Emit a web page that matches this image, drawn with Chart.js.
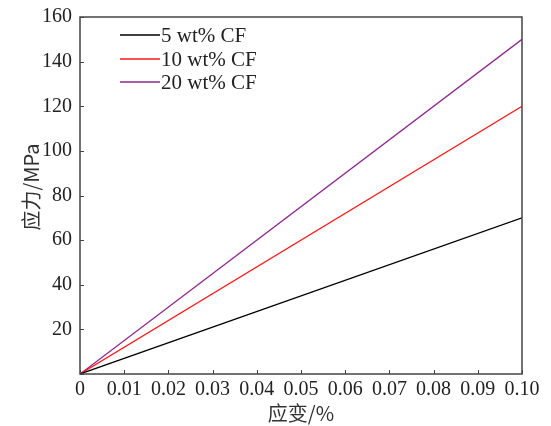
<!DOCTYPE html>
<html>
<head>
<meta charset="utf-8">
<script src="https://cdn.jsdelivr.net/npm/chart.js@4.4.0/dist/chart.umd.min.js"></script>
<style>
  html, body { margin: 0; padding: 0; background: #fff; }
  #box { width: 551px; height: 426px; }
</style>
</head>
<body>
<div id="box"><canvas id="grafico"></canvas></div>
<script>
// dados
const strain = [0, 0.1];
const cf5 = [0, 70];
const cf10 = [0, 120];
const cf20 = [0, 150];
const seriesNames = ['5 wt% CF', '10 wt% CF', '20 wt% CF'];
const seriesColors = ['#000000', '#ff1a1a', '#8e2a8e'];
const xTickLabels = ['0', '0.01', '0.02', '0.03', '0.04', '0.05', '0.06', '0.07', '0.08', '0.09', '0.10'];
const yTickLabels = ['', '20', '40', '60', '80', '100', '120', '140', '160'];
const xTitle = '应变/%';
const yTitle = '应力/MPa';

const serif = '"Liberation Serif", "Times New Roman", serif';
const cjk = '"Noto Sans CJK SC", "Liberation Serif", serif';

function pontos(ys) {
    return strain.map(function(x, i) { return { x: x, y: ys[i] }; });
}

// caixa, ticks para dentro, legenda e títulos
const moldura = {
    id: 'moldura',
    afterDraw: function(chart) {
        const ctx = chart.ctx;
        const a = chart.chartArea;
        const xs = chart.scales.x;
        const ys = chart.scales.y;
        ctx.save();
        ctx.strokeStyle = '#444';
        ctx.lineWidth = 1.5;
        ctx.strokeRect(a.left, a.top, a.right - a.left, a.bottom - a.top);
        ctx.lineWidth = 1;
        ctx.beginPath();
        xs.ticks.forEach(function(t) {
            const px = Math.round(xs.getPixelForValue(t.value)) + 0.5;
            ctx.moveTo(px, a.bottom);
            ctx.lineTo(px, a.bottom - 4);
        });
        ys.ticks.forEach(function(t) {
            const py = Math.round(ys.getPixelForValue(t.value)) + 0.5;
            ctx.moveTo(a.left, py);
            ctx.lineTo(a.left + 4, py);
        });
        ctx.stroke();

        // legenda
        const legY = [35, 59, 82];
        ctx.font = '21px ' + serif;
        ctx.textBaseline = 'middle';
        ctx.textAlign = 'left';
        chart.data.datasets.forEach(function(ds, i) {
            ctx.strokeStyle = ds.borderColor;
            ctx.lineWidth = 1.3;
            ctx.beginPath();
            ctx.moveTo(120, legY[i]);
            ctx.lineTo(160, legY[i]);
            ctx.stroke();
            ctx.fillStyle = '#222';
            ctx.fillText(ds.label, 161, legY[i] + 1);
        });

        // títulos dos eixos
        ctx.fillStyle = '#333';
        ctx.font = '20px ' + cjk;
        ctx.textAlign = 'center';
        ctx.fillText(xTitle, (a.left + a.right) / 2, 413);
        ctx.translate(31, 187);
        ctx.rotate(-Math.PI / 2);
        ctx.fillText(yTitle, 0, 0);
        ctx.restore();
    }
};

document.addEventListener('DOMContentLoaded', function() {
    const ctx = document.getElementById('grafico').getContext('2d');
    new Chart(ctx, {
        type: 'line',
        data: {
            datasets: [cf5, cf10, cf20].map(function(ys, i) {
                return {
                    label: seriesNames[i],
                    data: pontos(ys),
                    borderColor: seriesColors[i],
                    borderWidth: 1.3,
                    pointRadius: 0,
                    fill: false
                };
            })
        },
        options: {
            responsive: true,
            maintainAspectRatio: false,
            animation: false,
            layout: { padding: { top: 17, right: 29, left: 0, bottom: 0 } },
            plugins: { legend: { display: false }, tooltip: { enabled: false } },
            scales: {
                x: {
                    type: 'linear',
                    min: 0,
                    max: 0.1,
                    afterFit: function(s) {
                        s.height = 52;
                        s.paddingLeft = 0;
                        s.paddingRight = 0;
                    },
                    afterBuildTicks: function(s) {
                        s.ticks = xTickLabels.map(function(l, i) { return { value: i * 0.01 }; });
                    },
                    grid: { display: false, drawTicks: false },
                    border: { display: false },
                    ticks: {
                        padding: 4,
                        color: '#222',
                        font: { family: serif, size: 20 },
                        maxRotation: 0,
                        autoSkip: false,
                        callback: function(v, i) { return xTickLabels[i]; }
                    }
                },
                y: {
                    min: 0,
                    max: 160,
                    afterFit: function(s) {
                        s.width = 80;
                        s.paddingTop = 0;
                        s.paddingBottom = 0;
                    },
                    afterBuildTicks: function(s) {
                        s.ticks = yTickLabels.map(function(l, i) { return { value: i * 20 }; });
                    },
                    grid: { display: false, drawTicks: false },
                    border: { display: false },
                    ticks: {
                        padding: 8,
                        color: '#222',
                        font: { family: serif, size: 20 },
                        autoSkip: false,
                        callback: function(v, i) { return yTickLabels[i]; }
                    }
                }
            }
        },
        plugins: [moldura]
    });
});
</script>
</body>
</html>
